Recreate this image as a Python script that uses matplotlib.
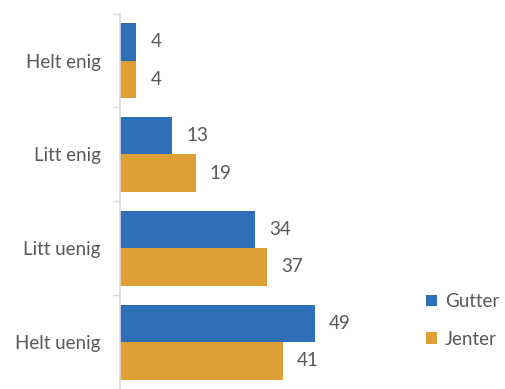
import numpy as np
import matplotlib
matplotlib.use("Agg")
import matplotlib.pyplot as plt

categories = ["Helt enig", "Litt enig", "Litt uenig", "Helt uenig"]
gutter = [4, 13, 34, 49]
jenter = [4, 19, 37, 41]

blue = "#2E6FB7"
orange = "#E09E37"
txt = "#595959"

plt.rcParams['font.family'] = ['Lato', 'DejaVu Sans']

fig = plt.figure(figsize=(5.05, 3.89), dpi=100)
ax = fig.add_axes([0.238, 0.0, 0.55, 0.965])

y = np.arange(len(categories))
h = 0.4
ax.barh(y - h / 2, gutter, height=h, color=blue, label="Gutter")
ax.barh(y + h / 2, jenter, height=h, color=orange, label="Jenter")

for yi, v in zip(y, gutter):
    ax.text(v + 3.6, yi - h / 2, str(v), va="center", ha="left", fontsize=13.5, color=txt)
for yi, v in zip(y, jenter):
    ax.text(v + 3.6, yi + h / 2, str(v), va="center", ha="left", fontsize=13.5, color=txt)

ax.set_xlim(0, 70)
ax.set_ylim(len(categories) - 0.5, -0.5)
ax.set_yticks(y)
ax.set_yticklabels(categories, fontsize=13.5, color=txt)
ax.set_yticks(np.arange(len(categories) + 1) - 0.5, minor=True)
ax.tick_params(axis="y", which="major", length=0, pad=14)
ax.tick_params(axis="y", which="minor", length=5, color="#D9D9D9", width=1)
ax.set_xticks([])
for s in ["top", "right", "bottom"]:
    ax.spines[s].set_visible(False)
ax.spines["left"].set_color("#D9D9D9")
ax.spines["left"].set_linewidth(1.2)

leg = fig.legend(loc="upper left", bbox_to_anchor=(0.81, 0.29), frameon=False,
                 fontsize=13.5, handlelength=0.6, handleheight=0.6,
                 handletextpad=0.4, labelspacing=1.1, labelcolor=txt)

fig.savefig("out.png", dpi=100)
